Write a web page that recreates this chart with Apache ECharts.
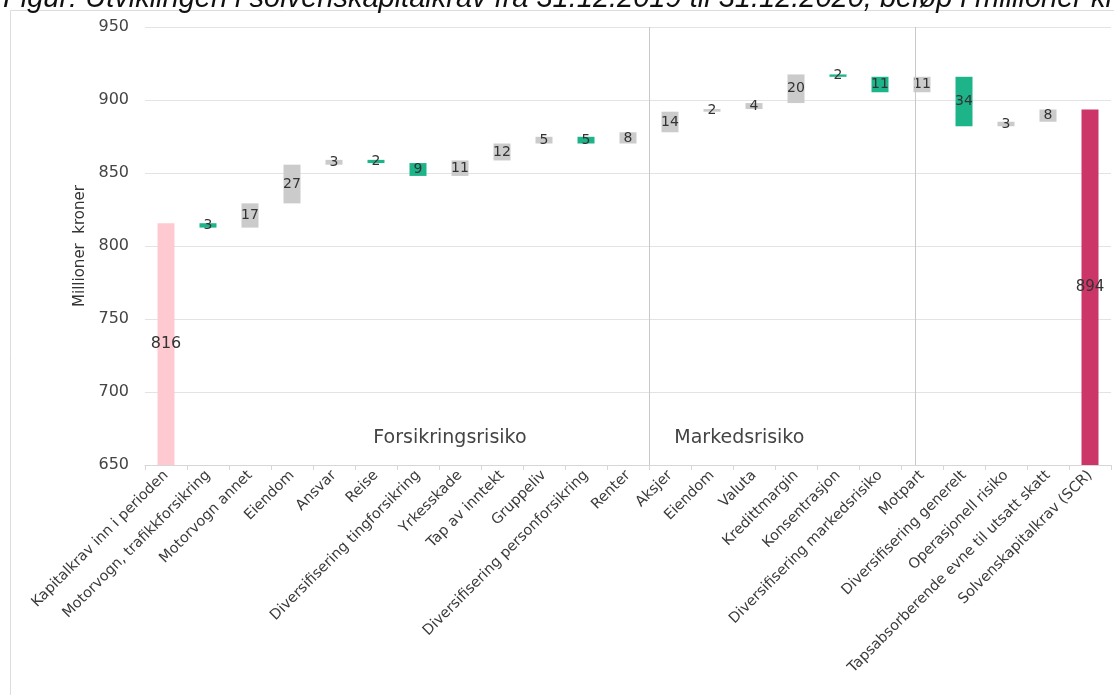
<!DOCTYPE html>
<html>
<head>
<meta charset="utf-8">
<script src="https://cdn.jsdelivr.net/npm/echarts@6/dist/echarts.min.js"></script>
<style>
  html, body { margin: 0; padding: 0; background: #fff; }
  #container { width: 1114px; height: 695px; }
</style>
</head>
<body>
<div id="container"></div>
<script>
var categories = [
  'Kapitalkrav inn i perioden', 'Motorvogn, trafikkforsikring', 'Motorvogn annet', 'Eiendom',
  'Ansvar', 'Reise', 'Diversifisering tingforsikring', 'Yrkesskade', 'Tap av inntekt',
  'Gruppeliv', 'Diversifisering personforsikring', 'Renter', 'Aksjer', 'Eiendom', 'Valuta',
  'Kredittmargin', 'Konsentrasjon', 'Diversifisering markedsrisiko', 'Motpart',
  'Diversifisering generelt', 'Operasjonell risiko', 'Tapsabsorberende evne til utsatt skatt',
  'Solvenskapitalkrav (SCR)'
];

// start value, then the change for each step (labels are rounded)
var startValue = 815.6;
var steps = [-3.0, 16.6, 26.5, 3.3, -2.2, -8.8, 10.6, 11.6, 4.6, -4.6, 7.7,
             14.1, 1.8, 4.1, 19.6, -1.6, -10.6, 10.6, -33.9, 3.1, 8.4];

var yMin = 650, yMax = 950, yStep = 50;

// group separators and group names, in category units
var dividerPos = [12, 18.35];
var groupNames = ['Forsikringsrisiko', 'Markedsrisiko'];
var groupPos = [7.26, 14.15];
var groupLevel = 668.5;

var dom = document.getElementById('container');
var myChart = echarts.init(dom, null, { renderer: 'canvas' });

var baseData = [], upData = [], downData = [], totalData = [];
var running = startValue;
totalData.push({ value: startValue, itemStyle: { color: '#ffc9d1' }, label: { fontSize: 16 } });
baseData.push('-'); upData.push('-'); downData.push('-');
steps.forEach(function (s) {
  var prev = running;
  running = running + s;
  baseData.push(Math.min(prev, running));
  upData.push(s > 0 ? s : '-');
  downData.push(s < 0 ? -s : '-');
  totalData.push('-');
});
baseData.push('-'); upData.push('-'); downData.push('-');
totalData.push({ value: running, itemStyle: { color: '#cb3567' }, label: { fontSize: 15 } });

var txt = { fontFamily: 'DejaVu Sans', color: '#3a3a3a' };
var barLabel = {
  show: true,
  position: 'inside',
  fontFamily: 'DejaVu Sans',
  fontSize: 14,
  color: '#333',
  textBorderWidth: 0,
  formatter: function (p) { return Math.round(p.value); }
};

var option = {
  animation: false,
  title: {
    text: 'Figur: Utviklingen i solvenskapitalkrav fra 31.12.2019 til 31.12.2020, beløp i millioner kroner',
    left: -2,
    top: -21,
    textStyle: { fontFamily: 'Liberation Sans', fontStyle: 'italic', fontWeight: 'normal', fontSize: 29, color: '#111' }
  },
  graphic: [{
    type: 'rect',
    shape: { x: 10.5, y: 10.5, width: 1200, height: 800 },
    style: { fill: 'none', stroke: '#dcdcdc', lineWidth: 1 },
    silent: true
  }],
  grid: { left: 145, right: 3, top: 27, bottom: 230 },
  xAxis: [{
    type: 'category',
    data: categories,
    axisLine: { lineStyle: { color: '#d6d6d6' } },
    axisTick: { show: true, length: 5, lineStyle: { color: '#d6d6d6' } },
    axisLabel: { rotate: 45, interval: 0, fontSize: 14.5, margin: 8, fontFamily: txt.fontFamily, color: txt.color },
    splitLine: { show: false }
  }, {
    type: 'value',
    min: 0,
    max: categories.length,
    show: false
  }],
  yAxis: {
    type: 'value',
    min: yMin,
    max: yMax,
    interval: yStep,
    name: 'Millioner  kroner',
    nameLocation: 'middle',
    nameGap: 55,
    nameTextStyle: { fontFamily: txt.fontFamily, fontSize: 15, color: '#333' },
    axisLine: { show: false },
    axisTick: { show: false },
    axisLabel: { fontSize: 16, margin: 16, fontFamily: txt.fontFamily, color: '#444' },
    splitLine: { lineStyle: { color: '#e3e3e3' } }
  },
  series: [
    {
      name: 'base', type: 'bar', stack: 'wf', barWidth: 17,
      itemStyle: { color: 'rgba(0,0,0,0)' },
      silent: true, data: baseData
    },
    {
      name: 'up', type: 'bar', stack: 'wf', barWidth: 17,
      itemStyle: { color: '#cbcbcb' }, label: barLabel, data: upData
    },
    {
      name: 'down', type: 'bar', stack: 'wf', barWidth: 17,
      itemStyle: { color: '#1db48a' }, label: barLabel, data: downData
    },
    {
      name: 'total', type: 'bar', stack: 'wf', barWidth: 17,
      label: barLabel, data: totalData
    },
    {
      name: 'groups', type: 'scatter', xAxisIndex: 1, data: [],
      markLine: {
        silent: true,
        symbol: 'none',
        label: { show: false },
        lineStyle: { color: '#c8c8c8', width: 1, type: 'solid' },
        data: dividerPos.map(function (x) { return { xAxis: x }; })
      },
      markPoint: {
        silent: true,
        symbol: 'rect',
        symbolSize: 1,
        itemStyle: { color: 'rgba(0,0,0,0)' },
        label: { show: true, position: 'inside', formatter: '{b}', fontFamily: txt.fontFamily, fontSize: 19, color: '#444' },
        data: groupNames.map(function (n, i) { return { name: n, coord: [groupPos[i], groupLevel] }; })
      }
    }
  ]
};

myChart.setOption(option);
window.addEventListener('resize', myChart.resize);
</script>
</body>
</html>
